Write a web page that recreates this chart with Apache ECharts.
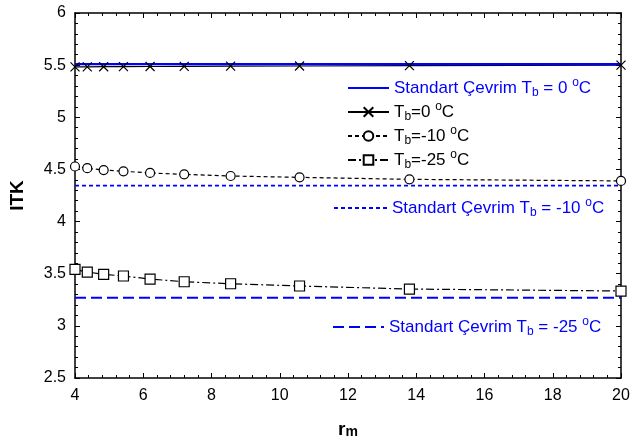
<!DOCTYPE html>
<html>
<head>
<meta charset="utf-8">
<script src="https://cdn.jsdelivr.net/npm/echarts@6/dist/echarts.min.js"></script>
<style>
  html, body { margin: 0; padding: 0; background: #fff; }
  #chart { width: 633px; height: 447px; }
</style>
</head>
<body>
<div id="chart"></div>
<script>
// Compression ratio r_m sample points
const rm = [4, 4.36, 4.84, 5.42, 6.2, 7.2, 8.56, 10.58, 13.8, 20];

// ITK (COP) for each evaporator temperature
const itkTb0   = [5.483, 5.484, 5.485, 5.486, 5.487, 5.488, 5.490, 5.492, 5.495, 5.500];
const itkTbM10 = [4.528, 4.512, 4.494, 4.482, 4.466, 4.453, 4.437, 4.424, 4.405, 4.390];
const itkTbM25 = [3.542, 3.516, 3.494, 3.478, 3.449, 3.423, 3.404, 3.382, 3.353, 3.334];

// Standard cycle reference values (constant over r_m)
const rmRange = [4, 20];
const stdTb0   = 5.51;
const stdTbM10 = 4.345;
const stdTbM25 = 3.27;

// Axis ticks
const xTicks = { min: 4, max: 20, step: 2 };
const yTicks = { min: 2.5, max: 6, step: 0.5 };

const pairs = (xs, ys) => xs.map((x, i) => [x, ys[i]]);
const flat = (v) => rmRange.map(x => [x, v]);

const FONT = '"Liberation Sans", Arial, sans-serif';
const BLUE = '#0000FF';

const names = {
  s0: 'std0', t0: 'tb0', t10: 'tb10', t25: 'tb25', s10: 'std10', s25: 'std25'
};
const legendText = {
  std0: '{t|Standart Çevrim T}{sub|b}{t| = 0 }{sup|o}{t|C}',
  tb0: '{t|T}{sub|b}{t|=0 }{sup|o}{t|C}',
  tb10: '{t|T}{sub|b}{t|=-10 }{sup|o}{t|C}',
  tb25: '{t|T}{sub|b}{t|=-25 }{sup|o}{t|C}',
  std10: '{t|Standart Çevrim T}{sub|b}{t| = -10 }{sup|o}{t|C}',
  std25: '{t|Standart Çevrim T}{sub|b}{t| = -25 }{sup|o}{t|C}'
};
const richFor = (color) => ({
  t:   { fontSize: 17, fontFamily: FONT, color, lineHeight: 22, verticalAlign: 'middle' },
  sub: { fontSize: 12, fontFamily: FONT, color, lineHeight: 12, verticalAlign: 'bottom' },
  sup: { fontSize: 12, fontFamily: FONT, color, lineHeight: 12, verticalAlign: 'top' }
});
const noSymbol = { opacity: 0 };

const crossPath = 'path://M0,0L10,10M10,0L0,10';

const axisCommon = {
  type: 'value',
  axisLine: { show: true, lineStyle: { color: '#000', width: 1.5 } },
  axisTick: { show: true, inside: true, length: 5, lineStyle: { color: '#000', width: 1 } },
  minorTick: { show: true, splitNumber: 5, length: 3, lineStyle: { color: '#000', width: 1 } },
  splitLine: { show: false },
  minorSplitLine: { show: false }
};

const option = {
  animation: false,
  backgroundColor: '#fff',
  grid: { left: 70, right: 12, top: 13, bottom: 69, containLabel: false },
  xAxis: [
    Object.assign({}, axisCommon, {
      position: 'bottom', min: xTicks.min, max: xTicks.max, interval: xTicks.step,
      axisLabel: { fontSize: 16, fontFamily: FONT, color: '#000', margin: 10 },
      name: 'r{m|m}', nameLocation: 'middle', nameGap: 42,
      nameTextStyle: {
        fontSize: 19, fontWeight: 'bold', fontFamily: FONT, color: '#000',
        rich: { m: { fontSize: 14, fontWeight: 'bold', fontFamily: FONT, color: '#000', verticalAlign: 'bottom', lineHeight: 12, padding: [9, 0, 0, 0] } }
      }
    }),
    Object.assign({}, axisCommon, {
      position: 'top', min: xTicks.min, max: xTicks.max, interval: xTicks.step,
      axisLabel: { show: false }
    })
  ],
  yAxis: [
    Object.assign({}, axisCommon, {
      position: 'left', min: yTicks.min, max: yTicks.max, interval: yTicks.step,
      axisLabel: { fontSize: 16, fontFamily: FONT, color: '#000', margin: 9 },
      name: 'ITK', nameLocation: 'middle', nameGap: 48, nameRotate: 90,
      nameTextStyle: { fontSize: 19, fontWeight: 'bold', fontFamily: FONT, color: '#000' }
    }),
    Object.assign({}, axisCommon, {
      position: 'right', min: yTicks.min, max: yTicks.max, interval: yTicks.step,
      axisLabel: { show: false }
    })
  ],
  legend: [
    {
      orient: 'vertical', left: 342, top: 72, itemWidth: 41, itemHeight: 12, itemGap: 2,
      formatter: (n) => legendText[n],
      textStyle: { rich: richFor('#000') },
      data: [
        { name: names.s0, textStyle: { rich: richFor(BLUE) }, itemStyle: noSymbol },
        { name: names.t0 },
        { name: names.t10 },
        { name: names.t25 }
      ]
    },
    {
      orient: 'vertical', left: 328, top: 192, itemWidth: 53, itemHeight: 12,
      formatter: (n) => legendText[n],
      textStyle: { rich: richFor(BLUE) },
      data: [{ name: names.s10, itemStyle: noSymbol }]
    },
    {
      orient: 'vertical', left: 327, top: 311, itemWidth: 51, itemHeight: 12,
      formatter: (n) => legendText[n],
      textStyle: { rich: richFor(BLUE) },
      data: [{ name: names.s25, itemStyle: noSymbol }]
    }
  ],
  series: [
    {
      name: names.t0, type: 'line', data: pairs(rm, itkTb0),
      symbol: crossPath, symbolSize: 9,
      lineStyle: { color: '#000', width: 1.2, type: 'solid' },
      itemStyle: { color: '#000', borderColor: '#000', borderWidth: 1.2 }
    },
    {
      name: names.s0, type: 'line', data: flat(stdTb0), symbol: 'none',
      lineStyle: { color: BLUE, width: 2.2, type: 'solid' },
      itemStyle: { color: BLUE }
    },
    {
      name: names.t10, type: 'line', data: pairs(rm, itkTbM10),
      symbol: 'circle', symbolSize: 9,
      lineStyle: { color: '#000', width: 1.2, type: [4, 3] },
      itemStyle: { color: '#fff', borderColor: '#000', borderWidth: 1.2 }
    },
    {
      name: names.t25, type: 'line', data: pairs(rm, itkTbM25),
      symbol: 'rect', symbolSize: 10,
      lineStyle: { color: '#000', width: 1.2, type: [8, 3, 2, 3] },
      itemStyle: { color: '#fff', borderColor: '#000', borderWidth: 1.2 }
    },
    {
      name: names.s10, type: 'line', data: flat(stdTbM10), symbol: 'none',
      lineStyle: { color: BLUE, width: 1.8, type: [4, 3] },
      itemStyle: { color: BLUE }
    },
    {
      name: names.s25, type: 'line', data: flat(stdTbM25), symbol: 'none',
      lineStyle: { color: BLUE, width: 2, type: [11, 5] },
      itemStyle: { color: BLUE }
    }
  ]
};

const chart = echarts.init(document.getElementById('chart'), null, { renderer: 'canvas' });
chart.setOption(option);
</script>
</body>
</html>
